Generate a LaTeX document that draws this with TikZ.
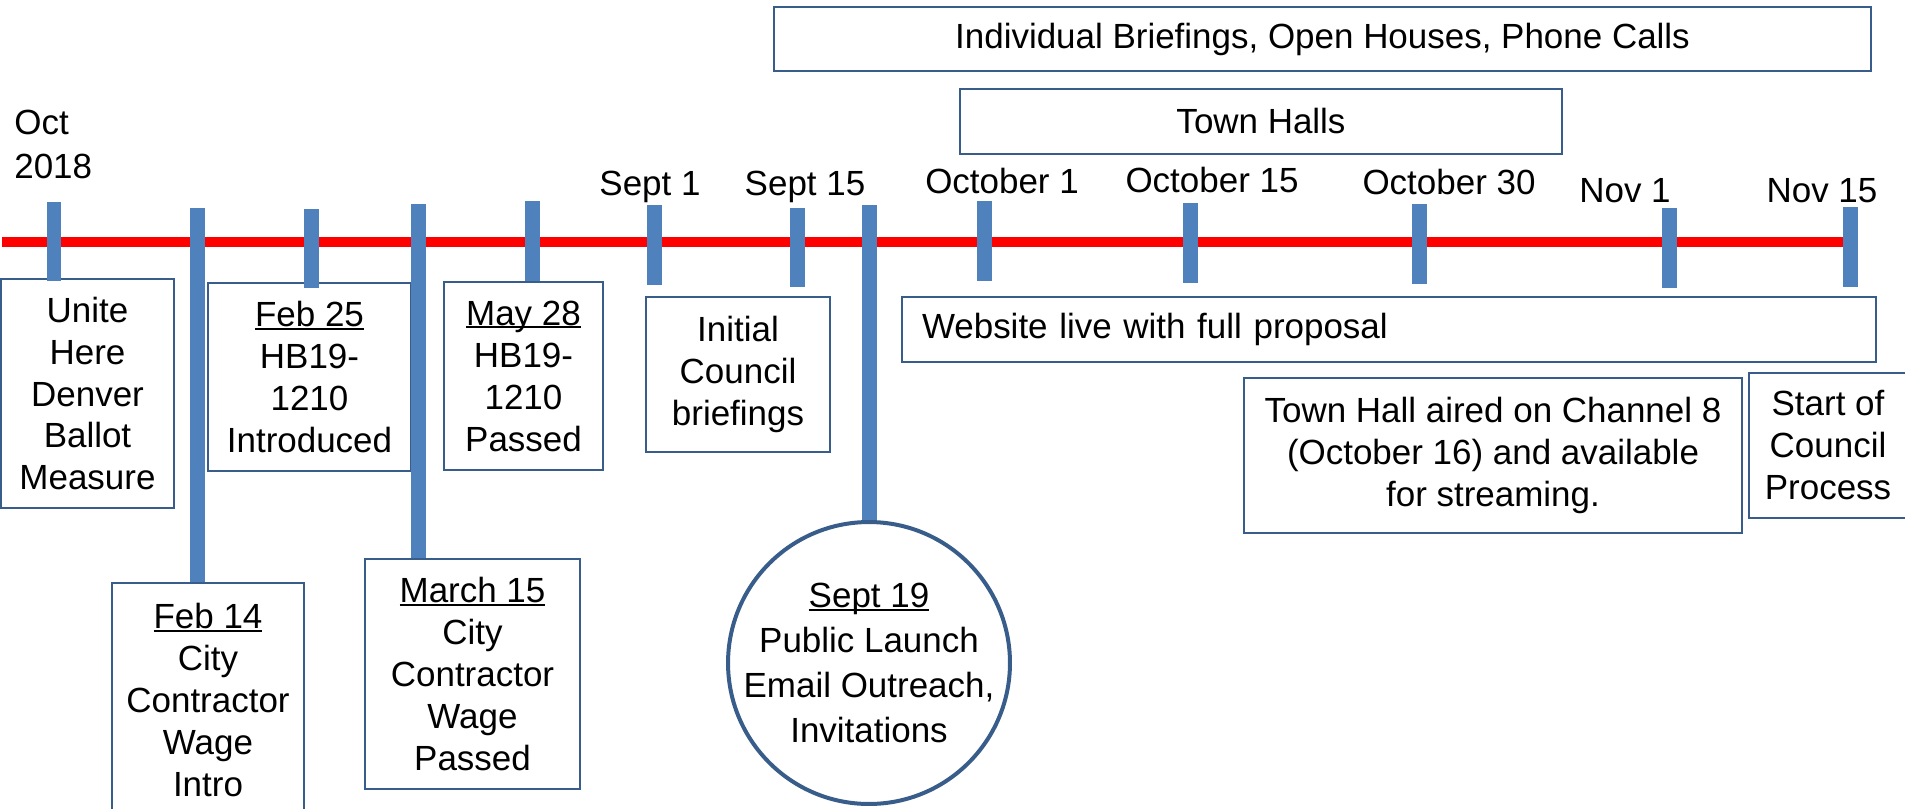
\documentclass[tikz,border=0pt]{standalone}
\usepackage{fontspec}
\setmainfont{Liberation Sans}
\definecolor{tickblue}{RGB}{79,129,189}
\definecolor{boxblue}{RGB}{56,93,138}
% underlined date inside an event box
\newcommand{\evdate}[1]{\setbox0=\hbox{#1}\rlap{\rule[-1.8pt]{\wd0}{1pt}}\box0}
\tikzset{
x=0.02cm, y=-0.02cm, % one unit is one pixel of the slide
every node/.style={font=\fontsize{19.9}{23.9}\selectfont, inner sep=0pt},
event/.style={draw=boxblue, line width=0.04cm, align=center}, % boxes for events
launch/.style={circle, draw=boxblue, line width=0.08cm, align=center, inner sep=-0.25cm, font=\fontsize{19.9}{25.5}\selectfont},
tick/.style={draw=tickblue, line width=0.3cm}, % blue marks on the time line
timeline/.style={draw=red, line width=0.2cm},
date/.style={anchor=base},
}

\begin{document}
\begin{tikzpicture}
	\useasboundingbox (0,0) rectangle (1905,808);
	% time line
	\draw[timeline] (2,242) -- (1850,242);
	% dates above the line
	\node[anchor=north west, align=left, font=\fontsize{19.9}{24.9}\selectfont] (oct) at (14,110) {Oct\\2018};
	\node[date] (sep1) at (650,195) {Sept 1};
	\node[date] (sep15) at (805,195) {Sept 15};
	\node[date] (oct1) at (1002,193) {October 1};
	\node[date] (oct15) at (1212,192) {October 15};
	\node[date] (oct30) at (1449,194) {October 30};
	\node[date] (nov1) at (1625,202) {Nov 1};
	\node[date] (nov15) at (1822,202) {Nov 15};
	% ongoing work
	\node[event, minimum width=21.94cm, minimum height=1.28cm] (brief) at (1322.5,39) {Individual Briefings, Open Houses, Phone Calls};
	\node[event, minimum width=12.04cm, minimum height=1.30cm] (halls) at (1261,121.5) {Town Halls};
	% events
	\node[event, minimum width=3.46cm, minimum height=4.58cm] (unite) at (87.5,393.5) {Unite\\Here\\Denver\\Ballot\\Measure};
	\node[event, minimum width=4.06cm, minimum height=3.76cm] (feb25) at (309.5,377) {\evdate{Feb 25}\\HB19-\\1210\\Introduced};
	\node[event, minimum width=3.18cm, minimum height=3.76cm] (may28) at (523.5,376) {\evdate{May 28}\\HB19-\\1210\\Passed};
	\node[event, minimum width=3.84cm, minimum height=4.68cm] (feb14) at (208,700) {\evdate{Feb 14}\\City\\Contractor\\Wage\\Intro};
	\node[event, minimum width=4.30cm, minimum height=4.60cm] (mar15) at (472.5,674) {\evdate{March 15}\\City\\Contractor\\Wage\\Passed};
	\node[event, minimum width=3.68cm, minimum height=3.10cm] (council) at (738,374.5) {Initial\\Council\\briefings};
	\node[launch, minimum size=5.64cm] (sep19) at (869,663) {\evdate{Sept 19}\\Public Launch\\Email Outreach,\\Invitations};
	\node[event, anchor=west, align=left, text width=18.68cm, inner xsep=0.4cm, minimum height=1.30cm] (web) at (901,329.5) {Website live with full proposal};
	\node[event, minimum width=9.96cm, minimum height=3.10cm] (aired) at (1493,455.5) {Town Hall aired on Channel 8\\(October 16) and available\\for streaming.};
	\node[event, minimum width=3.16cm, minimum height=2.90cm] (start) at (1828,445.5) {Start of\\Council\\Process};
	% short marks
	\foreach \x/\t/\b in {54/202/281, 311/209/288, 532/201/281, 654/205/285, 797/208/287,
		984/201/281, 1190/203/283, 1419/204/284, 1669/208/288, 1850/207/287}
		\draw[tick] (\x,\t) -- (\x,\b);
	% long marks down to their boxes
	\coordinate (feb14top) at (197,208);
	\coordinate (mar15top) at (418,204);
	\coordinate (sep19top) at (869,205);
	\draw[tick] (feb14top) -- (feb14top |- feb14.north);
	\draw[tick] (mar15top) -- (mar15top |- mar15.north);
	\draw[tick] (sep19top) -- (sep19.north);
\end{tikzpicture}
\end{document}
